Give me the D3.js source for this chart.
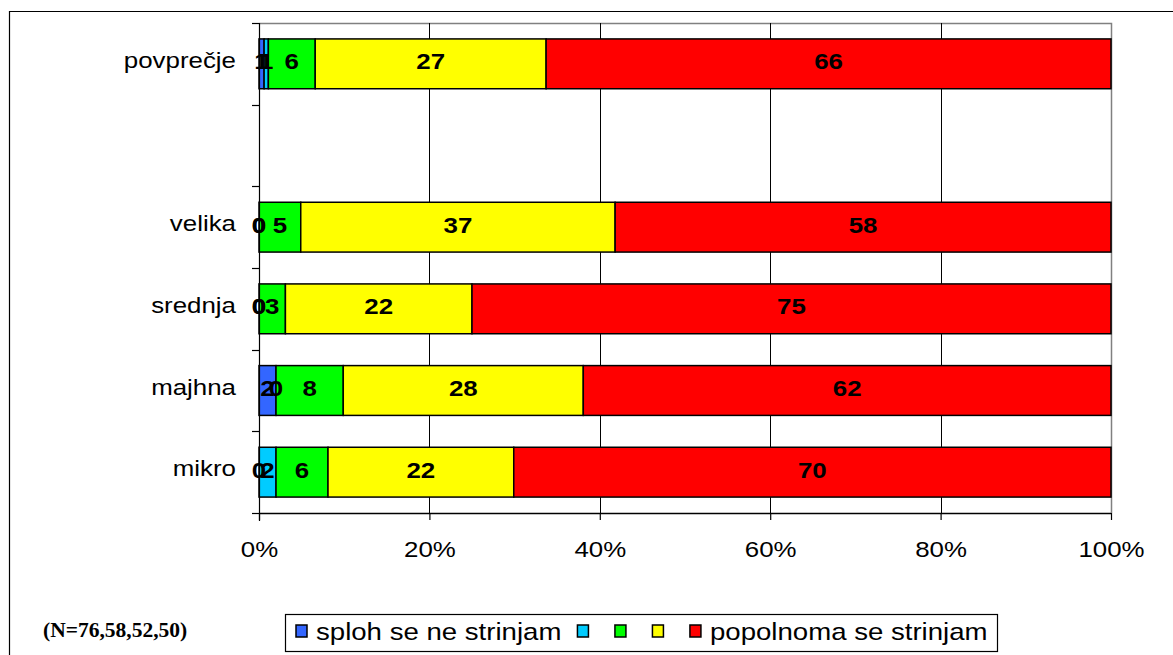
<!DOCTYPE html>
<html>
<head>
<meta charset="utf-8">
<script src="https://cdn.jsdelivr.net/npm/d3@7"></script>
<style>
  html, body { margin: 0; padding: 0; background: #fff; }
  svg { display: block; }
</style>
</head>
<body>
<svg id="chart" width="1173" height="655"></svg>
<script>
// ---- data ----
const categories = ["povprečje", "", "velika", "srednja", "majhna", "mikro"];
const seriesNames = ["sploh se ne strinjam", "", "", "", "popolnoma se strinjam"];
const seriesColors = ["#3366FF", "#00CCFF", "#00FF00", "#FFFF00", "#FF0000"];
const s1 = [0.6, null, 0, 0, 2.0, 0];
const s2 = [0.5, null, 0, 0, 0, 2.0];
const s3 = [5.5, null, 4.9, 3.1, 7.9, 6.1];
const s4 = [27.1, null, 36.9, 21.9, 28.2, 21.8];
const s5 = [66.3, null, 58.2, 75.0, 62.0, 70.1];
const xTicks = [0, 20, 40, 60, 80, 100];
const noteText = "(N=76,58,52,50)";

const seriesValues = [s1, s2, s3, s4, s5];

// ---- layout ----
const svg = d3.select("#chart");
const plot = { left: 259, right: 1111, top: 23, bottom: 513 };
const SX = 1.15;            // horizontal stretch of the original text
const FONT = "'Liberation Sans', Arial, sans-serif";
const FS = 22.5;
const LFS = 24;

const x = d3.scaleLinear().domain([0, 100]).range([plot.left, plot.right]);
const y = d3.scaleBand().domain(categories.map((c, i) => i)).range([plot.top, plot.bottom]).paddingInner(0.39).paddingOuter(0.195);

// outer frame (left & top visible)
svg.append("path")
  .attr("d", `M9.5,700 V11.5 H1200`)
  .attr("fill", "none").attr("stroke", "#000").attr("stroke-width", 1.2);

// plot area border (gray top/right)
svg.append("path")
  .attr("d", `M${plot.left},${plot.top + 0.5} H${plot.right + 0.5} V${plot.bottom}`)
  .attr("fill", "none").attr("stroke", "#808080").attr("stroke-width", 1.5);

// gridlines
svg.append("g").selectAll("line")
  .data(xTicks.filter(t => t > 0 && t < 100))
  .join("line")
  .attr("x1", d => Math.round(x(d)) + 0.5).attr("x2", d => Math.round(x(d)) + 0.5)
  .attr("y1", plot.top).attr("y2", plot.bottom)
  .attr("stroke", "#000").attr("stroke-width", 1);

// stacked data (100%)
const stacks = categories.map((c, i) => {
  if (seriesValues[0][i] === null) return null;
  const vals = seriesValues.map(s => s[i]);
  const total = d3.sum(vals);
  let acc = 0;
  return vals.map((v, k) => {
    const seg = { cat: i, k, v, x0: acc / total * 100, x1: (acc + v) / total * 100 };
    acc += v;
    return seg;
  });
});
const segs = stacks.filter(s => s).flat();

// bars
svg.append("g").selectAll("rect")
  .data(segs)
  .join("rect")
  .attr("x", d => x(d.x0))
  .attr("y", d => y(d.cat))
  .attr("width", d => Math.max(0, x(d.x1) - x(d.x0)))
  .attr("height", y.bandwidth())
  .attr("fill", d => seriesColors[d.k])
  .attr("stroke", "#000")
  .attr("stroke-width", d => d.v > 0 ? 1.5 : 0);

// left axis line and category ticks
svg.append("line")
  .attr("x1", plot.left + 0.5).attr("x2", plot.left + 0.5)
  .attr("y1", plot.top).attr("y2", plot.bottom + 8)
  .attr("stroke", "#000").attr("stroke-width", 1.2);
const bounds = categories.map((c, i) => y(i) - y.step() * y.paddingInner() / 2);
bounds.push(plot.bottom);
svg.append("g").selectAll("line")
  .data(bounds)
  .join("line")
  .attr("x1", plot.left - 7).attr("x2", plot.left)
  .attr("y1", d => Math.round(d) + 0.5).attr("y2", d => Math.round(d) + 0.5)
  .attr("stroke", "#000").attr("stroke-width", 1.2);

// bottom axis
const xAxis = svg.append("g")
  .attr("transform", `translate(0,${plot.bottom})`)
  .call(d3.axisBottom(x).tickValues(xTicks).tickFormat(d => d + "%").tickSize(7).tickPadding(0));
xAxis.select(".domain").attr("stroke", "#000").attr("stroke-width", 1.5).attr("d", `M${plot.left},0.5H${plot.right}`);
xAxis.selectAll(".tick line").attr("stroke", "#000").attr("stroke-width", 1.2);
xAxis.selectAll(".tick text")
  .attr("y", 44).attr("dy", null)
  .attr("font-family", FONT).attr("font-size", FS).attr("fill", "#000")
  .attr("transform", `scale(${SX},1)`);

// category labels
svg.append("g").selectAll("g")
  .data(categories.map((c, i) => ({ c, i })).filter(d => d.c !== ""))
  .join("g")
  .attr("transform", d => `translate(236,${y(d.i) + y.bandwidth() / 2 + 4}) scale(${SX},1)`)
  .append("text")
  .attr("text-anchor", "end")
  .attr("font-family", FONT).attr("font-size", FS).attr("fill", "#000")
  .text(d => d.c);

// value labels
svg.append("g").selectAll("g")
  .data(segs)
  .join("g")
  .attr("transform", d => `translate(${x((d.x0 + d.x1) / 2)},${y(d.cat) + y.bandwidth() / 2 + 5.5}) scale(${SX},1)`)
  .append("text")
  .attr("text-anchor", "middle")
  .attr("font-family", FONT).attr("font-size", FS).attr("font-weight", "bold").attr("fill", "#000")
  .text(d => Math.round(d.v));

// note
svg.append("text")
  .attr("x", 43).attr("y", 637)
  .attr("font-family", "'Liberation Serif', 'Times New Roman', serif")
  .attr("font-size", 21.5).attr("font-weight", "bold").attr("fill", "#000")
  .text(noteText);

// legend
const lg = svg.append("g");
lg.append("rect")
  .attr("x", 285.5).attr("y", 614.5).attr("width", 712).attr("height", 37)
  .attr("fill", "#fff").attr("stroke", "#000").attr("stroke-width", 1.2);
let lx = 296;
seriesNames.forEach((name, k) => {
  lg.append("rect")
    .attr("x", lx).attr("y", 625).attr("width", 11).attr("height", 12)
    .attr("fill", seriesColors[k]).attr("stroke", "#000").attr("stroke-width", 1.5);
  if (name) {
    const t = lg.append("g").attr("transform", `translate(${lx + 20},640) scale(${SX},1)`)
      .append("text")
      .attr("font-family", FONT).attr("font-size", LFS).attr("fill", "#000")
      .text(name);
    const w = t.node().getComputedTextLength() * SX;
    lx = lx + 20 + w + 16;
  } else {
    lx += 37.5;
  }
});
</script>
</body>
</html>
